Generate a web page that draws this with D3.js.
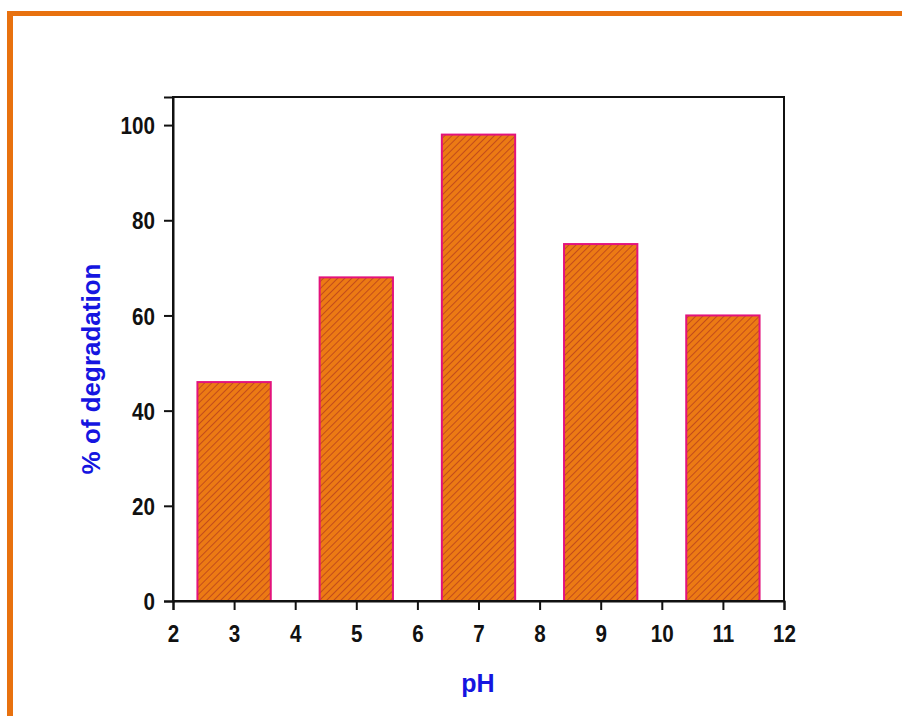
<!DOCTYPE html>
<html><head><meta charset="utf-8">
<script src="https://cdn.jsdelivr.net/npm/d3@7"></script>
<style>body{margin:0;background:#fff}</style>
</head><body>
<script>
const categories = [3, 5, 7, 9, 11];
const degradation = [46, 68, 98, 75, 60];
const xTicks = [2, 3, 4, 5, 6, 7, 8, 9, 10, 11, 12];
const yTicks = [0, 20, 40, 60, 80, 100];

const W = 902, H = 716;
const svg = d3.select("body").append("svg").attr("width", W).attr("height", H);
svg.append("rect").attr("width", W).attr("height", H).attr("fill", "#fff");
// orange frame
svg.append("rect").attr("x", 7).attr("y", 11).attr("width", W - 7).attr("height", 5).attr("fill", "#E8710F");
svg.append("rect").attr("x", 7).attr("y", 11).attr("width", 6).attr("height", H - 11).attr("fill", "#E8710F");

const L = 173, R = 784, T = 97, B = 601;
const x = d3.scaleLinear().domain([2, 12]).range([L, R]);
const y = d3.scaleLinear().domain([0, 105.9]).range([B, T]);

const defs = svg.append("defs");
const pat = defs.append("pattern").attr("id", "hatch").attr("patternUnits", "userSpaceOnUse")
  .attr("width", 5).attr("height", 5).attr("patternTransform", "rotate(45)");
pat.append("rect").attr("width", 5).attr("height", 5).attr("fill", "#EC7A14");
pat.append("line").attr("x1", 0).attr("y1", 0).attr("x2", 0).attr("y2", 5)
  .attr("stroke", "#B8401C").attr("stroke-width", 1.6);

const bw = 1.2;
svg.selectAll("rect.bar").data(categories).join("rect").attr("class", "bar")
  .attr("x", d => x(d - bw / 2)).attr("width", d => x(d + bw / 2) - x(d - bw / 2))
  .attr("y", (d, i) => y(degradation[i])).attr("height", (d, i) => y(0) - y(degradation[i]))
  .attr("fill", "url(#hatch)").attr("stroke", "#E3137C").attr("stroke-width", 2);

// frame box
svg.append("rect").attr("x", L).attr("y", T).attr("width", R - L).attr("height", B - T)
  .attr("fill", "none").attr("stroke", "#111").attr("stroke-width", 2);

const fontFam = "'Liberation Sans', Arial, sans-serif";
const xAxis = svg.append("g").attr("transform", `translate(0,${B})`)
  .call(d3.axisBottom(x).tickValues(xTicks).tickSize(9).tickPadding(6).tickFormat(d3.format("d")));
const yAxis = svg.append("g").attr("transform", `translate(${L},0)`)
  .call(d3.axisLeft(y).tickValues(yTicks).tickSize(9).tickPadding(6).tickFormat(d3.format("d")));
[xAxis, yAxis].forEach(a => {
  a.select(".domain").attr("stroke", "#111").attr("stroke-width", 2);
  a.selectAll(".tick line").attr("stroke", "#111").attr("stroke-width", 2);
  a.selectAll("text").attr("fill", "#111").attr("font-family", fontFam)
    .attr("font-weight", "bold").attr("font-size", 24);
});
xAxis.selectAll("text").attr("y", 0).attr("dy", null)
  .attr("transform", "translate(0,41) scale(0.86,1)");
yAxis.selectAll("text").attr("x", 0).attr("dy", "0.36em")
  .attr("transform", "translate(-18,0) scale(0.86,1)");

svg.append("text").attr("x", 478).attr("y", 692).attr("text-anchor", "middle")
  .attr("font-family", fontFam).attr("font-weight", "bold").attr("font-size", 25)
  .attr("fill", "#1515E0").text("pH");
svg.append("text").attr("transform", `translate(100,369) rotate(-90)`).attr("text-anchor", "middle")
  .attr("font-family", fontFam).attr("font-weight", "bold").attr("font-size", 26)
  .attr("fill", "#1515E0").text("% of degradation");
</script>
</body></html>
